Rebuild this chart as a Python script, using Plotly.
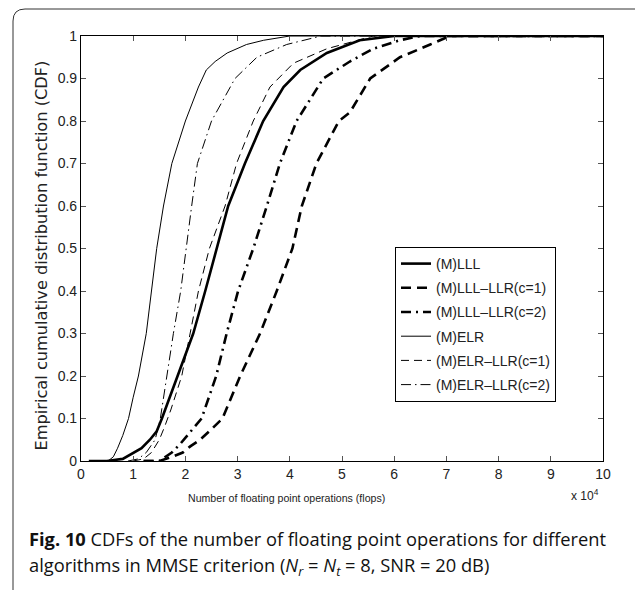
import plotly.graph_objects as go

# ---- data (flops in units of 1e4, empirical CDF) ----
mlll_x = [0.15, 0.5, 0.8, 1.03, 1.16, 1.32, 1.45, 1.55, 1.7, 1.86, 2.0, 2.15, 2.38, 2.6, 2.82, 3.14, 3.49, 3.88, 4.2, 4.71, 5.34, 6.0, 10.0]
mlll_y = [0.0, 0.0, 0.005, 0.02, 0.03, 0.05, 0.07, 0.1, 0.15, 0.2, 0.25, 0.3, 0.4, 0.5, 0.6, 0.7, 0.8, 0.88, 0.92, 0.96, 0.99, 1.0, 1.0]

mlll_c1_x = [1.2, 1.5, 1.75, 1.95, 2.1, 2.28, 2.5, 2.71, 3.05, 3.43, 3.75, 4.05, 4.23, 4.51, 4.94, 5.15, 5.54, 6.11, 6.69, 7.07, 10.0]
mlll_c1_y = [0.0, 0.0, 0.01, 0.02, 0.035, 0.05, 0.075, 0.1, 0.2, 0.3, 0.4, 0.5, 0.6, 0.7, 0.8, 0.82, 0.9, 0.95, 0.98, 1.0, 1.0]

mlll_c2_x = [1.2, 1.5, 1.62, 1.74, 1.9, 2.1, 2.31, 2.59, 2.79, 3.01, 3.3, 3.56, 3.81, 4.13, 4.64, 5.15, 5.6, 6.11, 6.5, 10.0]
mlll_c2_y = [0.0, 0.0, 0.01, 0.02, 0.04, 0.07, 0.1, 0.2, 0.3, 0.4, 0.5, 0.6, 0.7, 0.8, 0.9, 0.94, 0.97, 0.99, 1.0, 1.0]

melr_x = [0.3, 0.52, 0.62, 0.7, 0.8, 0.91, 1.0, 1.1, 1.25, 1.35, 1.45, 1.58, 1.74, 2.0, 2.25, 2.4, 2.57, 2.8, 3.17, 3.5, 4.0, 10.0]
melr_y = [0.0, 0.0, 0.01, 0.03, 0.06, 0.1, 0.15, 0.2, 0.3, 0.4, 0.5, 0.6, 0.7, 0.8, 0.88, 0.92, 0.94, 0.96, 0.98, 0.99, 1.0, 1.0]

melr_c1_x = [1.0, 1.2, 1.35, 1.5, 1.6, 1.72, 1.93, 2.09, 2.25, 2.46, 2.76, 2.98, 3.30, 3.62, 4.07, 4.71, 5.6, 10.0]
melr_c1_y = [0.0, 0.005, 0.02, 0.05, 0.08, 0.12, 0.2, 0.3, 0.4, 0.5, 0.6, 0.7, 0.8, 0.88, 0.936, 0.97, 1.0, 1.0]

melr_c2_x = [0.9, 1.1, 1.25, 1.42, 1.52, 1.64, 1.77, 1.91, 2.01, 2.12, 2.23, 2.5, 2.95, 3.37, 3.94, 4.6, 10.0]
melr_c2_y = [0.0, 0.005, 0.02, 0.05, 0.1, 0.2, 0.3, 0.4, 0.5, 0.6, 0.7, 0.8, 0.9, 0.95, 0.98, 1.0, 1.0]

names = ["(M)LLL", "(M)LLL\u2013LLR(c=1)", "(M)LLL\u2013LLR(c=2)",
         "(M)ELR", "(M)ELR\u2013LLR(c=1)", "(M)ELR\u2013LLR(c=2)"]
x_ticks = [0, 1, 2, 3, 4, 5, 6, 7, 8, 9, 10]
y_ticks = [0, 0.1, 0.2, 0.3, 0.4, 0.5, 0.6, 0.7, 0.8, 0.9, 1]
y_tick_text = ["0", "0.1", "0.2", "0.3", "0.4", "0.5", "0.6", "0.7", "0.8", "0.9", "1"]

series = [
    (mlll_x, mlll_y, 2.6, "solid"),
    (mlll_c1_x, mlll_c1_y, 2.6, "10px,6px"),
    (mlll_c2_x, mlll_c2_y, 2.6, "10px,5px,2px,5px"),
    (melr_x, melr_y, 1.0, "solid"),
    (melr_c1_x, melr_c1_y, 1.0, "8px,5px"),
    (melr_c2_x, melr_c2_y, 1.0, "10px,4px,1.5px,4px"),
]

fig = go.Figure()
for i, ((xs, ys, w, d), nm) in enumerate(zip(series, names)):
    fig.add_trace(go.Scatter(x=xs, y=ys, mode="lines", name=nm, legendgroup=f"g{i}",
                             line=dict(color="black", width=w, dash=d)))

L, R, T, B = 81, 603, 36, 461
W, H = 635, 590
pw, ph = R - L, B - T

def px(x):
    return (x - L) / pw

def py(y):
    return (B - y) / ph

tickfont = dict(family="Liberation Sans, Arial, sans-serif", size=14, color="#222")
fig.update_layout(
    width=W, height=H,
    margin=dict(l=L, r=W - R, t=T, b=H - B),
    paper_bgcolor="white", plot_bgcolor="white",
    showlegend=True,
    legend=dict(x=px(395), y=py(247), xanchor="left", yanchor="top",
                bgcolor="white", bordercolor="black", borderwidth=1,
                font=dict(family="Liberation Sans, Arial, sans-serif", size=14, color="#222"),
                tracegroupgap=3),
    xaxis=dict(range=[0, 10], tickvals=x_ticks, ticks="inside", ticklen=5,
               tickcolor="#555", showline=True, linecolor="black", linewidth=1.2,
               mirror="ticks", showgrid=False, zeroline=False, tickfont=tickfont),
    yaxis=dict(range=[0, 1], tickvals=y_ticks, ticktext=y_tick_text, ticks="inside",
               ticklen=5, tickcolor="#555", showline=True, linecolor="black",
               linewidth=1.2, mirror="ticks", showgrid=False, zeroline=False,
               tickfont=tickfont),
)

fig.add_annotation(text="Number of floating point operations (flops)", xref="paper", yref="paper",
                   x=px(286), y=py(498), xanchor="center", yanchor="middle", showarrow=False,
                   font=dict(family="Liberation Sans, Arial, sans-serif", size=10.6, color="#222"))
fig.add_annotation(text="x 10<sup>4</sup>", xref="paper", yref="paper",
                   x=px(601), y=py(495), xanchor="right", yanchor="middle", showarrow=False,
                   font=dict(family="Liberation Sans, Arial, sans-serif", size=12, color="#222"))
fig.add_annotation(text="Empirical cumulative distribution function (CDF)", xref="paper", yref="paper",
                   x=px(41), y=py(255.5), xanchor="center", yanchor="middle",
                   showarrow=False, textangle=-90,
                   font=dict(family="DejaVu Sans, sans-serif", size=16.2, color="#222"))

capfont = dict(family="Open Sans, Noto Sans, sans-serif", size=18.3, color="#111")
fig.add_annotation(
    text="<b>Fig. 10</b> CDFs of the number of floating point operations for different",
    xref="paper", yref="paper", x=px(27), y=py(538), xanchor="left", yanchor="middle",
    showarrow=False, font=capfont)
fig.add_annotation(
    text="algorithms in MMSE criterion (<i>N</i><sub><i>r</i></sub> = <i>N</i><sub><i>t</i></sub> = 8, SNR = 20 dB)",
    xref="paper", yref="paper", x=px(27), y=py(566), xanchor="left", yanchor="middle",
    showarrow=False, font=capfont)

# outer rounded frame (open at right and bottom)
path = (f"M {px(13)},{py(592)} L {px(13)},{py(21)} "
        f"Q {px(13)},{py(9)} {px(25)},{py(9)} L {px(636)},{py(9)}")
fig.add_shape(type="path", path=path, xref="paper", yref="paper",
              line=dict(color="#333", width=1))

fig.write_html("out.html", config={"displayModeBar": False},
               post_script="document.body.style.margin='0px';")
